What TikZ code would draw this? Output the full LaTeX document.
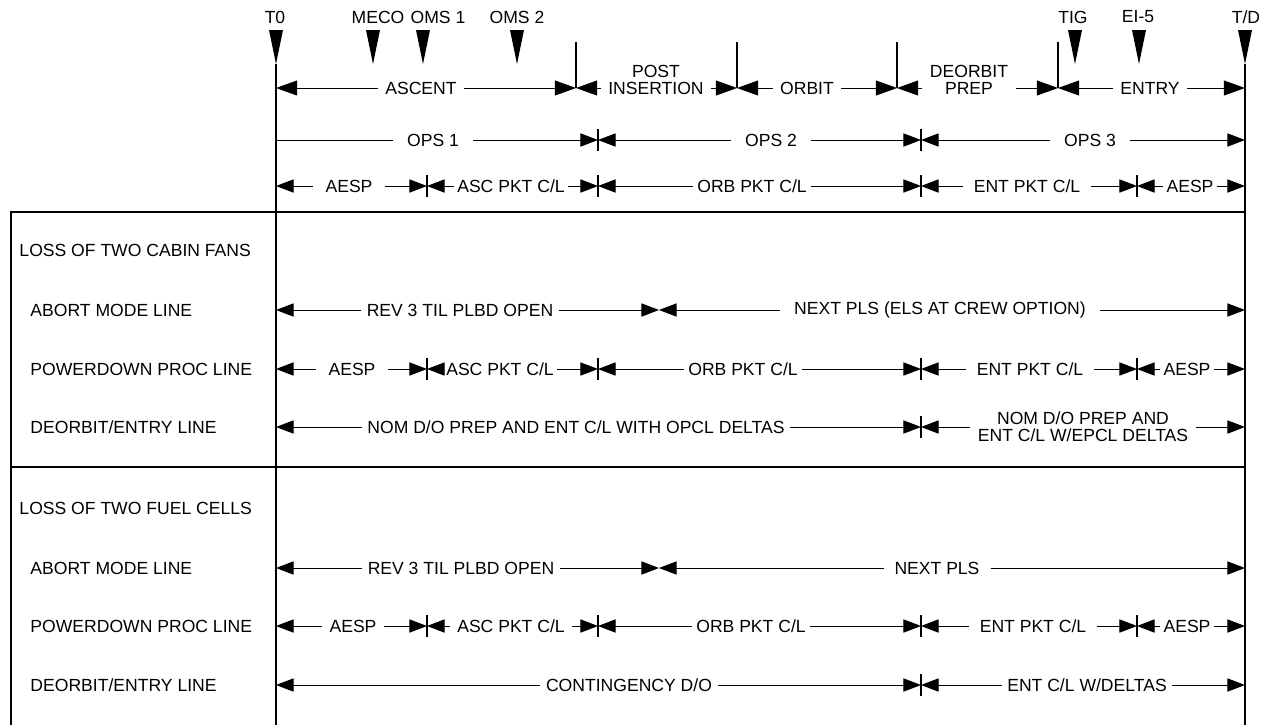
\documentclass[tikz,border=0pt]{standalone}
\usepackage{fontspec}
\setmainfont{Liberation Sans}
\usetikzlibrary{arrows.meta}

\begin{document}
\begin{tikzpicture}[x=0.02cm,y=-0.02cm,font=\fontsize{10}{9.6}\selectfont,line width=0.55pt,inner sep=4pt,
 >={Triangle[length=10pt,width=7.5pt]},
 bigtip/.style={>={Triangle[length=12pt,width=8.5pt]}},
 twoline/.style={align=center},
 rowname/.style={anchor=west,inner sep=0pt},
 tickline/.style={line width=0.8pt},
 timeaxis/.style={line width=1.2pt},
 boxline/.style={line width=1.4pt}]
\useasboundingbox (0,0) rectangle (1262,725);
% time marks
\coordinate (T0) at (276,64);
\coordinate (TD) at (1245,64);
\coordinate (bot) at (0,725);
\coordinate (s1) at (576,42);
\coordinate (s2) at (737,42);
\coordinate (s3) at (897,42);
\coordinate (s4) at (1058,42);
\coordinate (b1) at (427,0);
\coordinate (b2) at (598,0);
\coordinate (b3) at (921,0);
\coordinate (b4) at (1137,0);
\coordinate (mid) at (659,0);
% events
\node (lt0) at (275,17) {T0};
\fill (269,30) -- (283,30) -- (276,64) -- cycle;
\node (lmeco) at (378,17) {MECO};
\fill (366,30) -- (380,30) -- (373,64) -- cycle;
\node (loms1) at (438,17) {OMS 1};
\fill (416,30) -- (430,30) -- (423,64) -- cycle;
\node (loms2) at (517,17) {OMS 2};
\fill (510,30) -- (524,30) -- (517,64) -- cycle;
\node (ltig) at (1073,17) {TIG};
\fill (1068,30) -- (1082,30) -- (1075,64) -- cycle;
\node (lei) at (1138,17) {EI-5};
\fill (1132,30) -- (1146,30) -- (1139,64) -- cycle;
\node (ltd) at (1246,17) {T/D};
\fill (1238,30) -- (1252,30) -- (1245,64) -- cycle;
\draw[timeaxis] (T0) -- (T0|-bot);
\draw[timeaxis] (TD) -- (TD|-bot);
% flight phases
\node (asc) at (421,88) {ASCENT};
\node[twoline] (post) at (656,80) {POST\\INSERTION};
\node (orbit) at (807,88) {ORBIT};
\node[twoline] (prep) at (969,80) {DEORBIT\\PREP};
\node (entry) at (1150,88) {ENTRY};
\begin{scope}[bigtip]
\draw[<-] (T0|-asc) -- (asc); \draw[->] (asc) -- (s1|-asc);
\draw[<-] (s1|-asc) -- (post.west|-asc); \draw[->] (post.east|-asc) -- (s2|-asc);
\draw[<-] (s2|-orbit) -- (orbit); \draw[->] (orbit) -- (s3|-orbit);
\draw[<-] (s3|-asc) -- (prep.west|-asc); \draw[->] (prep.east|-asc) -- (s4|-asc);
\draw[<-] (s4|-entry) -- (entry); \draw[->] (entry) -- (TD|-entry);
\end{scope}
\draw[tickline] (s1) -- (s1|-asc) (s2) -- (s2|-asc) (s3) -- (s3|-asc) (s4) -- (s4|-asc);
% OPS
\node[inner xsep=8pt] (ops1) at (433,140) {OPS 1};
\node[inner xsep=8pt] (ops2) at (771,140) {OPS 2};
\node[inner xsep=8pt] (ops3) at (1090,140) {OPS 3};
\draw (T0|-ops1) -- (ops1); \draw[->] (ops1) -- (b2|-ops1);
\draw[<-] (b2|-ops2) -- (ops2); \draw[->] (ops2) -- (b3|-ops2);
\draw[<-] (b3|-ops3) -- (ops3); \draw[->] (ops3) -- (TD|-ops3);
\draw[tickline] (b2|-ops1) ++(0,-11) -- ++(0,22) (b3|-ops1) ++(0,-11) -- ++(0,22);
% checklists
\node[inner xsep=7pt] (pa1) at (349,186) {AESP};
\node[inner xsep=1.5pt] (pasc) at (511,186) {ASC PKT C/L};
\node[inner xsep=2pt] (porb) at (752,186) {ORB PKT C/L};
\node[inner xsep=6pt] (pent) at (1027,186) {ENT PKT C/L};
\node[inner xsep=2pt] (pa2) at (1190,186) {AESP};
\draw[<-] (T0|-pa1) -- (pa1); \draw[->] (pa1) -- (b1|-pa1);
\draw[<-] (b1|-pasc) -- (pasc); \draw[->] (pasc) -- (b2|-pasc);
\draw[<-] (b2|-porb) -- (porb); \draw[->] (porb) -- (b3|-porb);
\draw[<-] (b3|-pent) -- (pent); \draw[->] (pent) -- (b4|-pent);
\draw[<-] (b4|-pa2) -- (pa2); \draw[->] (pa2) -- (TD|-pa2);
\draw[tickline] (b1|-pa1) ++(0,-11) -- ++(0,22) (b2|-pa1) ++(0,-11) -- ++(0,22)
 (b3|-pa1) ++(0,-11) -- ++(0,22) (b4|-pa1) ++(0,-11) -- ++(0,22);
% table frame
\coordinate (f1) at (11,212);
\coordinate (f2) at (11,467);
\draw[boxline] (f1|-bot) -- (f1) -- (TD|-f1);
\draw[boxline] (f2) -- (TD|-f2);
% two cabin fans
\node[rowname] (cab) at (19,250) {LOSS OF TWO CABIN FANS};
\node[rowname] (cabab) at (30,310) {ABORT MODE LINE};
\node[rowname] (cabpd) at (30,369) {POWERDOWN PROC LINE};
\node[rowname] (cabde) at (30,427) {DEORBIT/ENTRY LINE};
\node[inner xsep=3pt] (crev) at (460,310) {REV 3 TIL PLBD OPEN};
\node[inner xsep=8pt] (cnext) at (940,310) {NEXT PLS (ELS AT CREW OPTION)};
\draw[<-] (T0|-crev) -- (crev); \draw[->] (crev) -- (mid|-crev);
\draw[<-] (mid|-cnext) -- (cnext); \draw[->] (cnext) -- (TD|-cnext);
\node[inner xsep=7pt] (ca1) at (352,369) {AESP};
\node[inner xsep=1.5pt] (casc) at (500,369) {ASC PKT C/L};
\node[inner xsep=2pt] (corb) at (743,369) {ORB PKT C/L};
\node[inner xsep=6pt] (cent) at (1030,369) {ENT PKT C/L};
\node[inner xsep=2pt] (ca2) at (1187,369) {AESP};
\draw[<-] (T0|-ca1) -- (ca1); \draw[->] (ca1) -- (b1|-ca1);
\draw[<-] (b1|-casc) -- (casc); \draw[->] (casc) -- (b2|-casc);
\draw[<-] (b2|-corb) -- (corb); \draw[->] (corb) -- (b3|-corb);
\draw[<-] (b3|-cent) -- (cent); \draw[->] (cent) -- (b4|-cent);
\draw[<-] (b4|-ca2) -- (ca2); \draw[->] (ca2) -- (TD|-ca2);
\draw[tickline] (b1|-ca1) ++(0,-11) -- ++(0,22) (b2|-ca1) ++(0,-11) -- ++(0,22)
 (b3|-ca1) ++(0,-11) -- ++(0,22) (b4|-ca1) ++(0,-11) -- ++(0,22);
\node[inner xsep=3pt] (cnom) at (576,427) {NOM D/O PREP AND ENT C/L WITH OPCL DELTAS};
\node[twoline] (cnom2) at (1083,427) {NOM D/O PREP AND\\ENT C/L W/EPCL DELTAS};
\draw[<-] (T0|-cnom) -- (cnom); \draw[->] (cnom) -- (b3|-cnom);
\draw[<-] (b3|-cnom) -- (cnom2); \draw[->] (cnom2) -- (TD|-cnom);
\draw[tickline] (b3|-cnom) ++(0,-11) -- ++(0,22);
% two fuel cells
\node[rowname] (fuel) at (19,508) {LOSS OF TWO FUEL CELLS};
\node[rowname] (fuelab) at (30,568) {ABORT MODE LINE};
\node[rowname] (fuelpd) at (30,626) {POWERDOWN PROC LINE};
\node[rowname] (fuelde) at (30,685) {DEORBIT/ENTRY LINE};
\node[inner xsep=3pt] (frev) at (461,568) {REV 3 TIL PLBD OPEN};
\node[inner xsep=6pt] (fnext) at (937,568) {NEXT PLS};
\draw[<-] (T0|-frev) -- (frev); \draw[->] (frev) -- (mid|-frev);
\draw[<-] (mid|-fnext) -- (fnext); \draw[->] (fnext) -- (TD|-fnext);
\node[inner xsep=4pt] (fa1) at (353,626) {AESP};
\node[inner xsep=4pt] (fasc) at (511,626) {ASC PKT C/L};
\node[inner xsep=2pt] (forb) at (751,626) {ORB PKT C/L};
\node[inner xsep=6pt] (fent) at (1033,626) {ENT PKT C/L};
\node[inner xsep=2pt] (fa2) at (1187,626) {AESP};
\draw[<-] (T0|-fa1) -- (fa1); \draw[->] (fa1) -- (b1|-fa1);
\draw[<-] (b1|-fasc) -- (fasc); \draw[->] (fasc) -- (b2|-fasc);
\draw[<-] (b2|-forb) -- (forb); \draw[->] (forb) -- (b3|-forb);
\draw[<-] (b3|-fent) -- (fent); \draw[->] (fent) -- (b4|-fent);
\draw[<-] (b4|-fa2) -- (fa2); \draw[->] (fa2) -- (TD|-fa2);
\draw[tickline] (b1|-fa1) ++(0,-11) -- ++(0,22) (b2|-fa1) ++(0,-11) -- ++(0,22)
 (b3|-fa1) ++(0,-11) -- ++(0,22) (b4|-fa1) ++(0,-11) -- ++(0,22);
\node[inner xsep=3pt] (fcon) at (629,685) {CONTINGENCY D/O};
\node[inner xsep=3pt] (fent2) at (1087,685) {ENT C/L W/DELTAS};
\draw[<-] (T0|-fcon) -- (fcon); \draw[->] (fcon) -- (b3|-fcon);
\draw[<-] (b3|-fent2) -- (fent2); \draw[->] (fent2) -- (TD|-fent2);
\draw[tickline] (b3|-fcon) ++(0,-11) -- ++(0,22);
\end{tikzpicture}
\end{document}
